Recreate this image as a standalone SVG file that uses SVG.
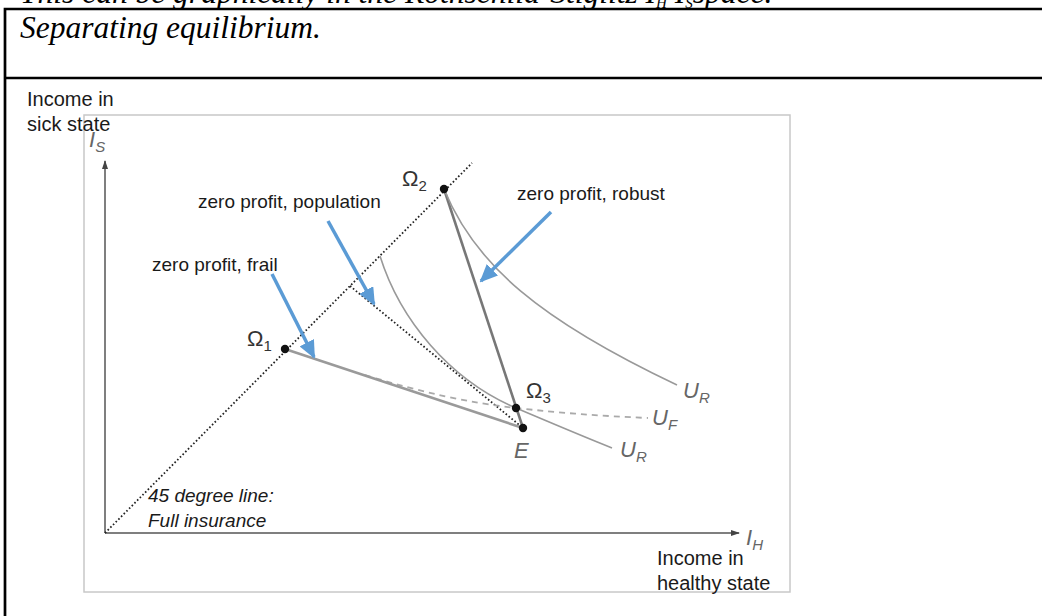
<svg xmlns="http://www.w3.org/2000/svg" width="1042" height="616" viewBox="0 0 1042 616">
<defs>
<marker id="axisHead" markerWidth="9" markerHeight="8" refX="8" refY="4" orient="auto" markerUnits="userSpaceOnUse"><path d="M0,1 L9,4 L0,7 Z" fill="#444"/></marker>
<marker id="blueHead" markerWidth="18" markerHeight="16" refX="16" refY="8" orient="auto" markerUnits="userSpaceOnUse"><path d="M0,0 L18,8 L0,16 Z" fill="#5b9bd5"/></marker>
</defs>
<style>
.doc{font-family:"Liberation Serif","Times New Roman",serif;font-style:italic;font-size:31.5px;fill:#000}
.lbl{font-family:"Liberation Sans",Arial,sans-serif;font-size:19px;fill:#1a1a1a}
.axl{font-family:"Liberation Sans",Arial,sans-serif;font-size:20px;fill:#1a1a1a}
.note{font-family:"Liberation Sans",Arial,sans-serif;font-size:19px;font-style:italic;fill:#1a1a1a}
.math{font-family:"Liberation Sans",Arial,sans-serif;font-style:italic;fill:#666;font-size:22px}
.sub{font-size:15px}
.om{font-family:"Liberation Sans",Arial,sans-serif;fill:#333;font-size:22px}
.dot{fill:#111}
.blue{stroke:#5b9bd5;stroke-width:3.5;fill:none;marker-end:url(#blueHead)}
.box{stroke:#000;stroke-width:2.7;fill:none}
</style>
<rect width="1042" height="616" fill="#fff"/>
<g id="document">
<text class="doc" x="20" y="3">This can be graphically in the Rothschild-Stiglitz I<tspan class="sub" dy="5">H</tspan><tspan dy="-5"> I</tspan><tspan class="sub" dy="5">S</tspan><tspan dy="-5">space.</tspan></text>
<path class="box" d="M5,616 V9 H1042 M5,78 H1042"/>
<text class="doc" x="20" y="38">Separating equilibrium.</text>
</g>
<g id="frame"><rect x="84" y="115" width="706" height="477" fill="none" stroke="#c8c8c8" stroke-width="1.5"/></g>
<g id="axes">
<line x1="105" y1="533" x2="105" y2="161" stroke="#555" stroke-width="1.5" marker-end="url(#axisHead)"/>
<line x1="105" y1="533" x2="739" y2="533" stroke="#555" stroke-width="1.5" marker-end="url(#axisHead)"/>
<text class="math" x="89" y="147">I<tspan class="sub" dy="5">S</tspan></text>
<text class="math" x="746" y="545">I<tspan class="sub" dy="5">H</tspan></text>
<text class="axl" x="27" y="106">Income in</text>
<text class="axl" x="27" y="131">sick state</text>
<text class="axl" x="657" y="565">Income in</text>
<text class="axl" x="657" y="590">healthy state</text>
</g>
<g id="connectors">
<line id="full-insurance" x1="105" y1="533" x2="472" y2="163" stroke="#222" stroke-width="1.8" stroke-dasharray="1.6 2.2"/>
<line id="zp-population" x1="350" y1="286" x2="523" y2="428" stroke="#222" stroke-width="1.8" stroke-dasharray="1.6 2.2"/>
<path id="UF" d="M365,375 C420,392 470,403 516,408 S600,416 648,418" fill="none" stroke="#aaa" stroke-width="1.8" stroke-dasharray="6 5"/>
<line id="zp-frail" x1="285" y1="349" x2="523" y2="428" stroke="#9a9a9a" stroke-width="2.6"/>
<line id="zp-robust" x1="444" y1="189" x2="523" y2="428" stroke="#777" stroke-width="2.6"/>
<path id="UR-low" d="M380,256 C400,320 450,380 516,408 S585,437 612,448" fill="none" stroke="#999" stroke-width="1.6"/>
<path id="UR-high" d="M444,189 C475,265 540,320 677,385" fill="none" stroke="#999" stroke-width="1.6"/>
</g>
<g id="node-omega1"><circle class="dot" cx="285" cy="349" r="4.2"/><text class="om" x="247" y="346">Ω<tspan class="sub" dy="5">1</tspan></text></g>
<g id="node-omega2"><circle class="dot" cx="444" cy="189" r="4.2"/><text class="om" x="402" y="186">Ω<tspan class="sub" dy="5">2</tspan></text></g>
<g id="node-omega3"><circle class="dot" cx="516" cy="408" r="4.2"/><text class="om" x="526" y="398">Ω<tspan class="sub" dy="5">3</tspan></text></g>
<g id="node-E"><circle class="dot" cx="523" cy="428" r="4.2"/><text class="math" x="514" y="458">E</text></g>
<g id="curve-labels">
<text class="math" x="683" y="398">U<tspan class="sub" dy="5">R</tspan></text>
<text class="math" x="652" y="425">U<tspan class="sub" dy="5">F</tspan></text>
<text class="math" x="620" y="457">U<tspan class="sub" dy="5">R</tspan></text>
</g>
<g id="annotations">
<text class="lbl" x="198" y="208">zero profit, population</text>
<text class="lbl" x="152" y="271">zero profit, frail</text>
<text class="lbl" x="517" y="200">zero profit, robust</text>
<line class="blue" x1="272" y1="274" x2="314" y2="357"/>
<line class="blue" x1="328" y1="221" x2="374" y2="304"/>
<line class="blue" x1="551" y1="212" x2="481" y2="281"/>
<text class="note" x="148" y="502">45 degree line:</text>
<text class="note" x="148" y="527">Full insurance</text>
</g>
</svg>
